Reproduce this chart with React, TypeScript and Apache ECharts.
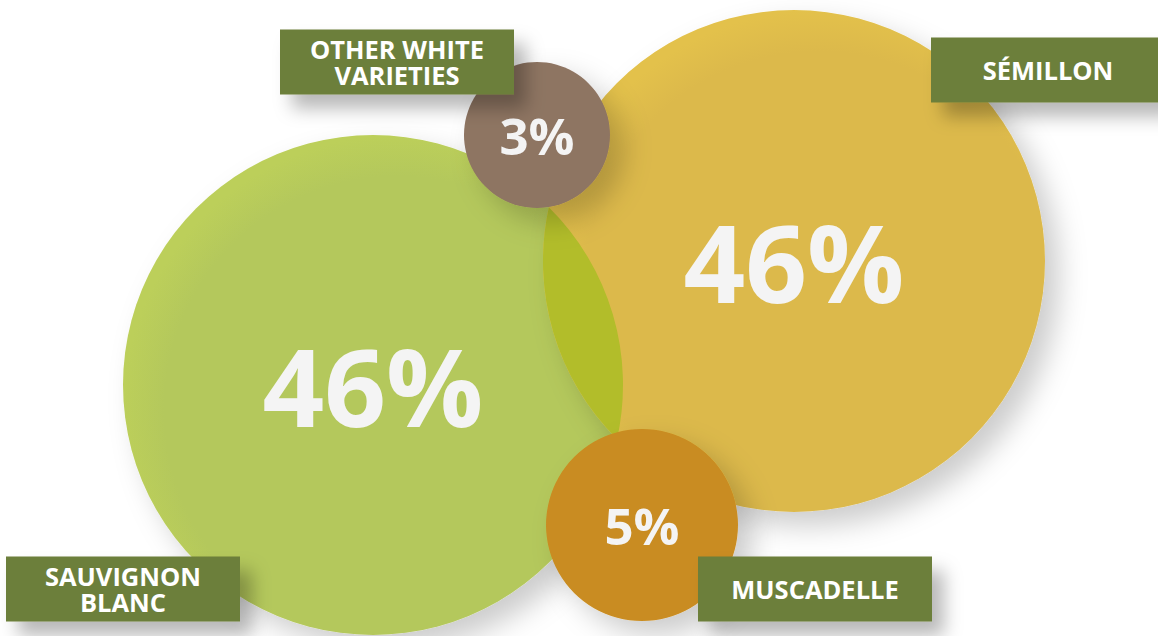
import React, { useEffect, useRef } from "react";
import * as echarts from "echarts";

// Grape varieties and their share of the planted area (%)
const varieties = ["Sauvignon Blanc", "Sémillon", "Other white varieties", "Muscadelle"];
const shares = [46, 46, 3, 5];
const shareLabels = ["46%", "46%", "3%", "5%"];

// bubble layout in chart units (x to the right, y downwards)
const bubbleX = [373, 794, 537, 642];
const bubbleY = [385, 261, 135, 525];
const bubbleDiameter = [500, 502, 146, 192];

// name tags
const tagText = ["SAUVIGNON\nBLANC", "SÉMILLON", "OTHER WHITE\nVARIETIES", "MUSCADELLE"];
const tagX = [123, 1048, 397, 815];
const tagY = [589, 70, 62, 589];

const W = 1158;
const H = 636;

const bubbleColors = [
  ["#b4c85b", "#bccf5a"],
  ["#dcb94b", "#e3c14b"],
  ["#8e7462", "#8e7462"],
  ["#c98c20", "#c98c20"],
];

function bubbleItem(i: number) {
  return {
    name: varieties[i],
    value: [bubbleX[i], bubbleY[i], shares[i]],
    symbolSize: bubbleDiameter[i],
    itemStyle: {
      opacity: 1,
      color: {
        type: "radial",
        x: 0.55,
        y: 0.55,
        r: 0.55,
        colorStops: [
          { offset: 0, color: bubbleColors[i][0] },
          { offset: 0.85, color: bubbleColors[i][0] },
          { offset: 1, color: bubbleColors[i][1] },
        ],
      },
      shadowBlur: 28,
      shadowColor: "rgba(0,0,0,0.2)",
      shadowOffsetX: 14,
      shadowOffsetY: 14,
    },
    label: {
      show: true,
      position: "inside",
      formatter: shareLabels[i],
      color: "#f4f4f4",
      fontFamily: "Open Sans",
      fontWeight: "bold",
      fontSize: shares[i] > 20 ? 108 : 51,
    },
  };
}

export default function App() {
  const ref = useRef<HTMLDivElement>(null);

  useEffect(() => {
    if (!ref.current) return;
    const chart = echarts.init(ref.current, null, { renderer: "svg" });

    const lensRender = (params: any, api: any) => {
      const c1 = api.coord([api.value(0), api.value(1)]);
      const c2 = api.coord([api.value(2), api.value(3)]);
      const r1 = api.value(4) / 2;
      const r2 = api.value(5) / 2;
      const dx = c2[0] - c1[0];
      const dy = c2[1] - c1[1];
      const d = Math.sqrt(dx * dx + dy * dy);
      const a = (d * d + r1 * r1 - r2 * r2) / (2 * d);
      const h = Math.sqrt(Math.max(r1 * r1 - a * a, 0));
      const ux = dx / d;
      const uy = dy / d;
      const mx = c1[0] + a * ux;
      const my = c1[1] + a * uy;
      const pA = [mx + h * uy, my - h * ux];
      const pB = [mx - h * uy, my + h * ux];
      const path =
        `M${pA[0]},${pA[1]} A${r1},${r1} 0 0 1 ${pB[0]},${pB[1]} ` +
        `A${r2},${r2} 0 0 1 ${pA[0]},${pA[1]} Z`;
      return {
        type: "path",
        shape: { pathData: path },
        style: { fill: "#b2bd2a" },
      };
    };

    chart.setOption({
      animation: false,
      backgroundColor: "#ffffff",
      grid: { left: 0, right: 0, top: 0, bottom: 0 },
      xAxis: { type: "value", min: 0, max: W, show: false },
      yAxis: { type: "value", min: 0, max: H, inverse: true, show: false },
      series: [
        {
          type: "scatter",
          name: "major",
          clip: false,
          z: 1,
          data: [bubbleItem(0), bubbleItem(1)],
        },
        {
          type: "custom",
          name: "overlap",
          z: 2,
          clip: false,
          renderItem: lensRender,
          data: [[bubbleX[0], bubbleY[0], bubbleX[1], bubbleY[1], bubbleDiameter[0], bubbleDiameter[1]]],
          silent: true,
        },
        {
          type: "scatter",
          name: "minor",
          clip: false,
          z: 3,
          data: [bubbleItem(2), bubbleItem(3)],
        },
        {
          type: "scatter",
          name: "tags",
          clip: false,
          z: 4,
          symbol: "rect",
          symbolSize: [234, 65],
          itemStyle: {
            opacity: 1,
            color: "#6c7f3b",
            shadowBlur: 18,
            shadowColor: "rgba(0,0,0,0.28)",
            shadowOffsetX: 12,
            shadowOffsetY: 14,
          },
          label: {
            show: true,
            position: "inside",
            formatter: (p: any) => tagText[p.dataIndex],
            color: "#ffffff",
            fontFamily: "Open Sans",
            fontWeight: "bold",
            fontSize: 25.5,
            lineHeight: 26,
            align: "center",
          },
          data: tagX.map((x, i) => ({ name: varieties[i], value: [x, tagY[i]] })),
        },
      ],
    });

    return () => chart.dispose();
  }, []);

  return (
    <div
      ref={ref}
      style={{ position: "absolute", left: 0, top: 0, width: W, height: H }}
    />
  );
}
